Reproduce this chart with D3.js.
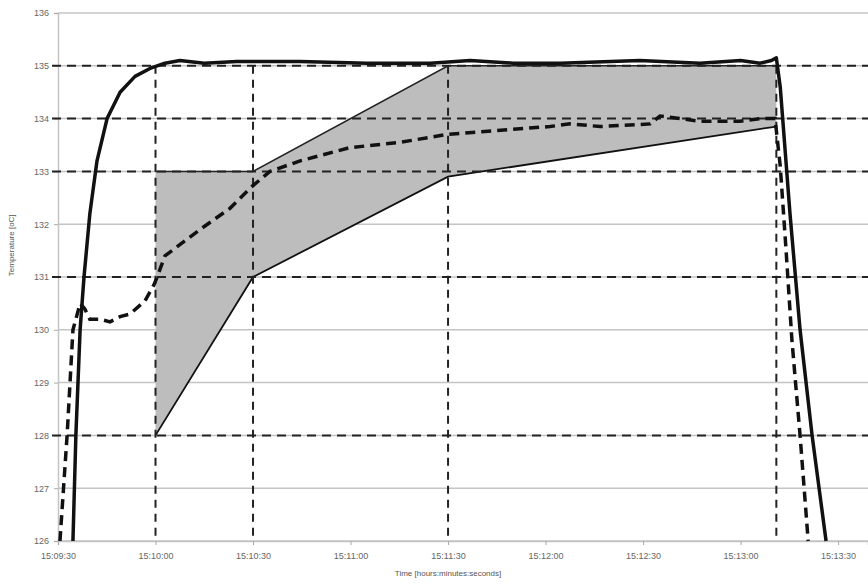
<!DOCTYPE html>
<html>
<head>
<meta charset="utf-8">
<script src="https://cdn.jsdelivr.net/npm/d3@7"></script>
<style>
  body { margin: 0; background: #fff; }
  .tick text { font-family: "Liberation Sans", Arial, sans-serif; font-size: 9px; fill: #666; }
  .axis-label { font-family: "Liberation Sans", Arial, sans-serif; font-size: 8px; fill: #555; }
</style>
</head>
<body>
<div id="chart"></div>
<script>
// time values are seconds after 15:09:30
const solidSecs = [4.6, 5.5, 6.8, 8.0, 9.8, 12, 15.1, 19.1, 23.7, 28.3, 32.9, 37.5, 45, 55, 74.5, 95, 114.5, 126.8, 140, 154.5, 170, 179, 197.5, 210, 216, 219.5, 221, 222.2, 225.2, 228.3, 232, 236.3];
const solidTemp = [126, 128, 130, 131, 132.2, 133.2, 134, 134.5, 134.8, 134.95, 135.05, 135.1, 135.05, 135.08, 135.08, 135.05, 135.05, 135.1, 135.05, 135.05, 135.08, 135.1, 135.05, 135.1, 135.05, 135.1, 135.15, 134.6, 132.2, 130, 128, 126];

const dashSecs = [0.6, 2.8, 4.6, 6.8, 8.2, 9.8, 12.9, 16, 19.1, 22.2, 26.8, 29.5, 30.5, 32.9, 43.7, 52.9, 59.4, 65.2, 74.5, 89.8, 105.2, 119.7, 129.8, 151.4, 157.5, 166.8, 182.2, 185.2, 197.5, 209.8, 216, 220.6, 222.2, 224, 225.8, 228.3, 230.8];
const dashTemp = [126, 128, 130, 130.5, 130.4, 130.2, 130.2, 130.15, 130.25, 130.3, 130.55, 130.85, 131.0, 131.4, 131.9, 132.3, 132.7, 133.0, 133.2, 133.45, 133.55, 133.7, 133.75, 133.85, 133.9, 133.85, 133.9, 134.05, 133.95, 133.95, 134.0, 134.0, 133.1, 131.5, 129.8, 128, 126];

// shaded band (upper and lower limits)
const bandSecs  = [30, 60, 120, 221];
const bandUpper = [133, 133, 135, 135];
const bandLower = [128, 131, 132.9, 133.85];

const markerTimes = [30, 60, 120, 221];
const markerTemps = [135, 134, 133, 131, 128];

const yTicks = [126, 127, 128, 129, 130, 131, 132, 133, 134, 135, 136];
const xTickLabels = ["15:09:30", "15:10:00", "15:10:30", "15:11:00", "15:11:30", "15:12:00", "15:12:30", "15:13:00", "15:13:30"];

const W = 868, H = 585;
const margin = {top: 13, right: 0, bottom: 44, left: 58};
const width = W - margin.left - margin.right;
const height = H - margin.top - margin.bottom;

const parse = d3.timeParse("%H:%M:%S");
const t0 = parse("15:09:30");
const toDate = s => new Date(t0.getTime() + s * 1000);

const x = d3.scaleTime().domain([t0, toDate(249.2)]).range([0, width]);
const y = d3.scaleLinear().domain([126, 136]).range([height, 0]);

const svg = d3.select("#chart").append("svg").attr("width", W).attr("height", H);
const g = svg.append("g").attr("transform", `translate(${margin.left},${margin.top})`);

// gridlines
g.selectAll(".grid").data(yTicks).enter().append("line")
  .attr("x1", 0).attr("x2", width)
  .attr("y1", d => y(d)).attr("y2", d => y(d))
  .attr("stroke", "#c4c4c4").attr("stroke-width", 1.5);

// shaded band
const bandPts = bandSecs.map((s, i) => [x(toDate(s)), y(bandUpper[i])])
  .concat(bandSecs.map((s, i) => [x(toDate(s)), y(bandLower[i])]).reverse());
g.append("path")
  .attr("d", "M" + bandPts.join("L") + "Z")
  .attr("fill", "#bdbdbd").attr("stroke", "none");
const upperLine = d3.line().x((d, i) => x(toDate(bandSecs[i]))).y(d => y(d));
g.append("path").attr("d", upperLine(bandUpper)).attr("fill", "none")
  .attr("stroke", "#222").attr("stroke-width", 1.5);
g.append("path").attr("d", upperLine(bandLower)).attr("fill", "none")
  .attr("stroke", "#111").attr("stroke-width", 1.8);

// axes
g.append("g").attr("transform", `translate(0,${height})`)
  .call(d3.axisBottom(x)
    .tickValues(xTickLabels.map(parse))
    .tickFormat(d3.timeFormat("%H:%M:%S"))
    .tickSize(4).tickPadding(8))
  .call(a => a.select(".domain").attr("stroke", "#c4c4c4").attr("stroke-width", 1.5))
  .call(a => a.selectAll(".tick line").attr("stroke", "#aaa"));

g.append("g")
  .call(d3.axisLeft(y).tickValues(yTicks).tickFormat(d3.format("d")).tickSize(4).tickPadding(5))
  .call(a => a.select(".domain").attr("stroke", "#c4c4c4").attr("stroke-width", 1.5))
  .call(a => a.selectAll(".tick line").attr("stroke", "#aaa"));

// dashed marker lines
g.selectAll(".hmark").data(markerTemps).enter().append("line")
  .attr("x1", -6).attr("x2", width)
  .attr("y1", d => y(d)).attr("y2", d => y(d))
  .attr("stroke", "#222").attr("stroke-width", 2).attr("stroke-dasharray", "9,6");
g.selectAll(".vmark").data(markerTimes).enter().append("line")
  .attr("x1", d => x(toDate(d))).attr("x2", d => x(toDate(d)))
  .attr("y1", y(135)).attr("y2", height)
  .attr("stroke", "#222").attr("stroke-width", 2).attr("stroke-dasharray", "8,6");

// temperature curves
const curve = d3.line().x(d => x(toDate(d[0]))).y(d => y(d[1])).curve(d3.curveMonotoneX);
g.append("path").datum(dashSecs.map((s, i) => [s, dashTemp[i]]))
  .attr("d", d3.line().x(d => x(toDate(d[0]))).y(d => y(d[1])))
  .attr("fill", "none").attr("stroke", "#111").attr("stroke-width", 3.5)
  .attr("stroke-dasharray", "10,6");
g.append("path").datum(solidSecs.map((s, i) => [s, solidTemp[i]]))
  .attr("d", d3.line().x(d => x(toDate(d[0]))).y(d => y(d[1])))
  .attr("fill", "none").attr("stroke", "#111").attr("stroke-width", 3.5)
  .attr("stroke-linejoin", "round");

// axis labels
g.append("text").attr("class", "axis-label")
  .attr("x", x(toDate(120))).attr("y", height + 35)
  .attr("text-anchor", "middle").text("Time [hours:minutes:seconds]");
g.append("text").attr("class", "axis-label")
  .attr("transform", "rotate(-90)")
  .attr("x", -y(131.6)).attr("y", -44)
  .attr("text-anchor", "middle").text("Temperature [oC]");
</script>
</body>
</html>
